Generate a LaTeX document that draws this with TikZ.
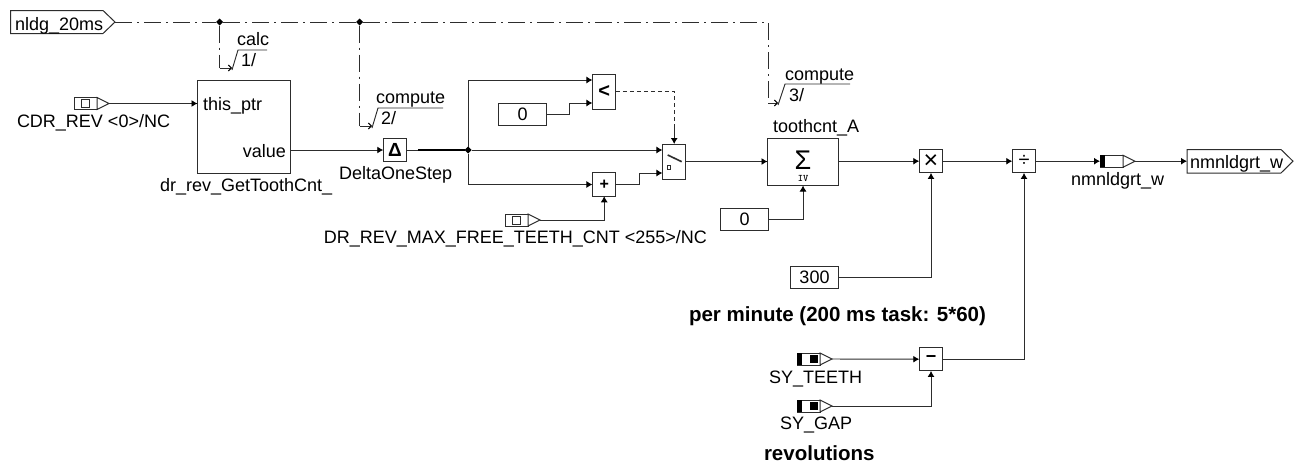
\documentclass[tikz,border=0pt]{standalone}
\usepackage{fontspec}
\setmainfont{Liberation Sans}
\usetikzlibrary{arrows.meta,calc,positioning,shapes.geometric}
\definecolor{wiregray}{RGB}{45,45,45}
\tikzset{
 wire/.style={wiregray,line width=.95pt},
 sigwire/.style={wire,-{Latex[length=6pt,width=7pt,black]}},
 taskwire/.style={wire,dash pattern=on 17pt off 5pt on 2pt off 5pt},
 taskend/.style={wire,-{Straight Barb[length=3pt,width=6pt,black]}},
 ctrlwire/.style={wire,dash pattern=on 4pt off 3pt},
 blockbox/.style={draw=wiregray,line width=1pt,fill=white,inner sep=0,outer sep=0},
 opbox/.style={blockbox,minimum width=23.5pt,minimum height=23.5pt,font=\fontsize{18}{18}\bfseries\selectfont},
 tallbox/.style={blockbox,minimum width=23.5pt,minimum height=35pt,font=\fontsize{20}{20}\bfseries\selectfont},
 valbox/.style={blockbox,minimum width=47.5pt,minimum height=21.5pt,font=\fontsize{18}{18}\selectfont},
 portbody/.style={blockbox,minimum width=23pt,minimum height=12pt},
 portdot/.style={draw=wiregray,line width=.8pt,fill=white,minimum size=8pt,inner sep=0,outer sep=0},
 inkdot/.style={fill=black,minimum size=8pt,inner sep=0,outer sep=0},
 flagtext/.style={inner sep=0,outer sep=0,anchor=base west,font=\fontsize{18}{18}\selectfont},
 txtlabel/.style={inner sep=0,outer sep=0,anchor=base west,font=\fontsize{18}{18}\selectfont},
 notelabel/.style={inner sep=0,outer sep=0,anchor=base west,font=\fontsize{20.5}{20.5}\bfseries\selectfont},
 junction/.style={fill=black,diamond,minimum size=7pt,inner sep=0,outer sep=0},
}
% port: name, left edge, centre line
\newcommand{\sigport}[3]{
 \node[portbody] (#1) at (#2+11.5,#3) {};
 \draw[blockbox] (#1.north east) -- ++(12,6) -- (#1.south east) -- cycle;
 \coordinate (#1-tip) at ($(#1.east)+(12,0)$);
}
\newcommand{\inkband}[1]{
 \fill[black] (#1.north west) rectangle ($(#1.south west)+(5,0)$);
}
\begin{document}
\begin{tikzpicture}[x=1pt,y=-1pt,line cap=butt]
 \useasboundingbox (0,0) rectangle (1295,466);
 % task line
 \coordinate (tasktop) at (768,22);
 \coordinate (calcin) at (232,68);
 \coordinate (compin) at (372,126);
 \coordinate (sumin) at (778,103);
 \draw[blockbox] (10.5,10.5) -- (103,10.5) -- (115,22) -- (103,33.5) -- (10.5,33.5) -- cycle;
 \node[flagtext] (taskname) at (15,30) {nldg\_20ms};
 \coordinate (tasktip) at (115,22);
 \node[junction] (jcalc) at (219.5,22) {};
 \node[junction] (jcomp) at (359.5,22) {};
 \draw[taskwire] (tasktip) -- (jcalc) -- (jcomp) -- (tasktop) -- (tasktop |- sumin);
 \draw[taskwire] (jcalc) -- (jcalc |- calcin);
 \draw[taskwire] (jcomp) -- (jcomp |- compin);
 \draw[taskend] (jcalc |- calcin) -- (calcin);
 \draw[taskend] (jcomp |- compin) -- (compin);
 \draw[taskend] (tasktop |- sumin) -- (sumin);
 % radicals
 \draw[wire] (232,70) -- (238,50) -- (267,50);
 \node[txtlabel] (calcname) at (237,45) {calc};
 \node[txtlabel] (calcnum) at (241,66) {1/};
 \draw[wire] (372,128) -- (378,108) -- (443,108);
 \node[txtlabel] (compname) at (376,103) {compute};
 \node[txtlabel] (compnum) at (381,124) {2/};
 \draw[wire] (778,105) -- (785,84) -- (850,84);
 \node[txtlabel] (sumname) at (785,80.7) {compute};
 \node[txtlabel] (sumnum) at (789,101) {3/};
 % tooth count block
 \sigport{cdrrev}{74}{103.5}
 \node[portdot] (cdrrevmark) at (cdrrev.center) {};
 \node[txtlabel] (cdrrevname) at (17,127) {CDR\_REV <0>/NC};
 \node[blockbox,minimum size=93pt] (getcnt) at (244,127) {};
 \node[txtlabel] (thisptr) at (203,110.7) {this\_ptr};
 \node[txtlabel,anchor=base east] (cntvalue) at (286,157) {value};
 \node[txtlabel] (getcntname) at (160,191) {dr\_rev\_GetToothCnt\_};
 \draw[sigwire] (cdrrev-tip) -- (getcnt.west |- cdrrev-tip);
 \node[opbox,font=\fontsize{19}{19}\bfseries\selectfont] (delta) at (395,150) {Δ};
 \node[txtlabel] (deltaname) at (339,179) {DeltaOneStep};
 \coordinate (valueout) at (getcnt.east |- delta);
 \draw[sigwire] (valueout) -- (delta.west);
 % limit logic
 \node[junction] (jdelta) at (468,150) {};
 \draw[wire] (delta.east) -- ++(11,0);
 \draw[wire,line width=1.7pt,black] ($(delta.east)+(11,0)$) -- (jdelta);
 \node[tallbox] (less) at (604.2,91.5) {<};
 \node[opbox,font=\fontsize{16}{16}\bfseries\selectfont] (plus) at (604.2,184.5) {+};
 \node[tallbox] (switch) at (674.2,161.5) {};
 \draw[wiregray,line width=1.6pt] (667.7,155) -- (681.7,161.7);
 \node[portdot,minimum size=3.5pt] (switchmark) at (669,167.5) {};
 \coordinate (lessup) at (less.west |- 0,80);
 \coordinate (lesslow) at (less.west |- 0,103);
 \coordinate (swup) at (switch.west |- jdelta);
 \coordinate (swlow) at (switch.west |- 0,173);
 \draw[sigwire] (jdelta) |- (lessup);
 \draw[sigwire] (jdelta) -- (swup);
 \draw[sigwire] (jdelta) |- (plus.west);
 \node[valbox] (zeroa) at (522.7,114.7) {0};
 \draw[sigwire] (zeroa.east) -- ++(23,0) |- (lesslow);
 \draw[sigwire] (plus.east) -- ++(23.5,0) |- (swlow);
 \coordinate (swctrl) at (switch.north |- less.east);
 \draw[ctrlwire] (less.east) -- (swctrl) -- ++(0,34);
 \draw[sigwire] ($(swctrl)+(0,34)$) -- (switch.north);
 \sigport{maxfree}{505}{220}
 \node[portdot] (maxfreemark) at (maxfree.center) {};
 \node[txtlabel,anchor=base east] (maxfreename) at (707,243) {DR\_REV\_MAX\_FREE\_TEETH\_CNT <255>/NC};
 \draw[sigwire] (maxfree-tip) -| (plus.south);
 % integrator
 \node[blockbox,minimum width=71pt,minimum height=47pt] (sum) at (803,162) {};
 \node[inner sep=0,font=\fontsize{27}{27}\selectfont] (sumsign) at (803,160.5) {Σ};
 \node[inner sep=0,font=\fontsize{10}{10}\ttfamily\bfseries] (sumiv) at (803,178.5) {IV};
 \node[txtlabel] (sumlabel) at (773,132) {toothcnt\_A};
 \draw[sigwire] (switch.east) -- (sum.west |- switch.east);
 \node[valbox] (zerob) at (744.5,219.5) {0};
 \draw[sigwire] (zerob.east) -| (sum.south);
 % speed calculation
 \node[opbox,font=\fontsize{25}{25}\selectfont] (mul) at (931,161.2) {×};
 \node[opbox,font=\fontsize{20}{20}\selectfont] (div) at (1024,161.2) {÷};
 \node[opbox] (minus) at (931,359.2) {−};
 \draw[sigwire] (sum.east |- mul) -- (mul.west);
 \draw[sigwire] (mul.east) -- (div.west);
 \node[valbox] (rate) at (814.5,277.5) {300};
 \draw[sigwire] (rate.east) -| (mul.south);
 \node[notelabel] (ratenote) at (689,321) {per minute (200 ms task: 5*60)};
 \sigport{teeth}{797}{359}
 \inkband{teeth}
 \node[inkdot] (teethmark) at (814,359) {};
 \node[txtlabel] (teethname) at (769,383) {SY\_TEETH};
 \sigport{gap}{797}{406}
 \inkband{gap}
 \node[inkdot] (gapmark) at (814,406) {};
 \node[txtlabel] (gapname) at (780,429) {SY\_GAP};
 \node[notelabel] (gapnote) at (764,460.7) {revolutions};
 \draw[sigwire] (teeth-tip) -- (minus.west);
 \draw[sigwire] (gap-tip) -| (minus.south);
 \draw[sigwire] (minus.east) -| (div.south);
 % output
 \sigport{speed}{1100}{161.2}
 \inkband{speed}
 \node[txtlabel] (speedname) at (1071,185) {nmnldgrt\_w};
 \draw[sigwire] (div.east) -- (speed.west);
 \coordinate (flagin) at (1187,161.2);
 \draw[blockbox] (1187,149.5) -- (1281,149.5) -- (1293,161.2) -- (1281,173) -- (1187,173) -- cycle;
 \node[flagtext] (flagname) at (1190,168) {nmnldgrt\_w};
 \draw[sigwire] (speed-tip) -- (flagin);
\end{tikzpicture}
\end{document}
